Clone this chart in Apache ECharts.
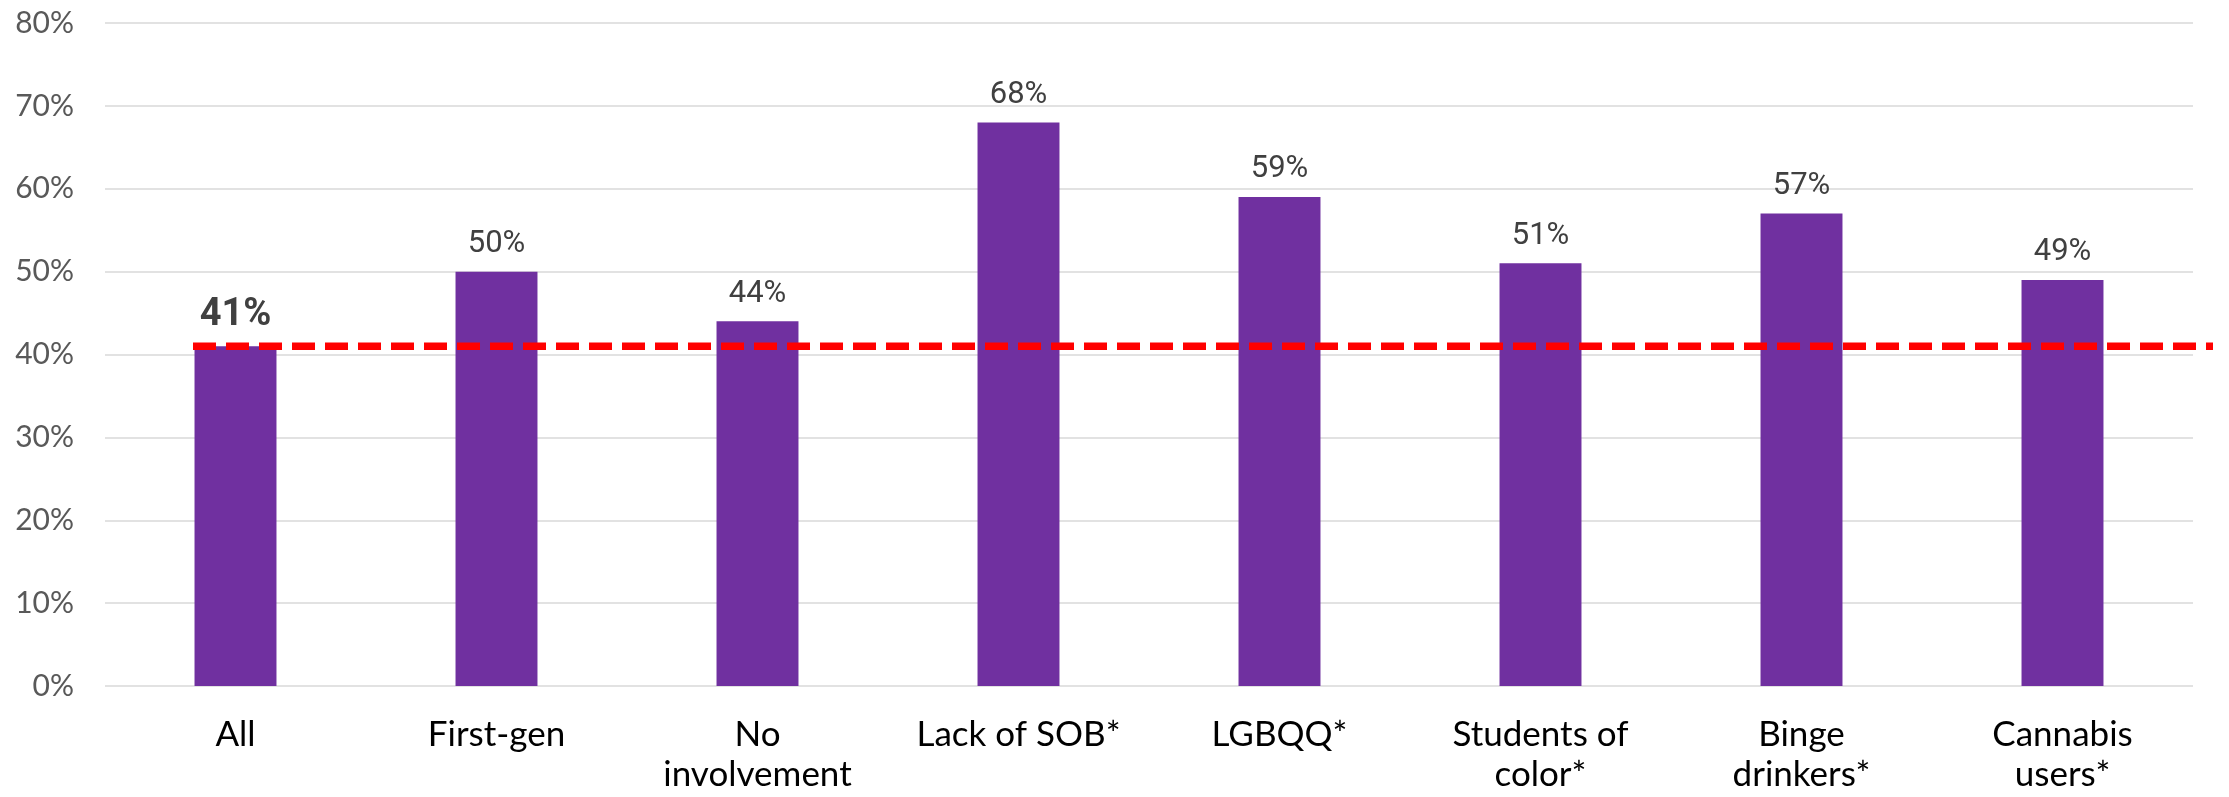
<!DOCTYPE html>
<html>
<head>
<meta charset="utf-8">
<title>Share by student group</title>
<script src="https://cdn.jsdelivr.net/npm/echarts@6/dist/echarts.min.js"></script>
<style>
  html, body { margin: 0; padding: 0; background: #ffffff; }
  #chart { width: 2229px; height: 797px; }
</style>
</head>
<body>
<div id="chart"></div>
<script>
// Student groups along the x axis
const categories = ['All', 'First-gen', 'No\ninvolvement', 'Lack of SOB*', 'LGBQQ*', 'Students of\ncolor*', 'Binge\ndrinkers*', 'Cannabis\nusers*'];
// Percent of each group
const values = [41, 50, 44, 68, 59, 51, 57, 49];
// Reference level drawn as a dashed line across the chart (the "All" value)
const referenceLevel = 41;
// Value axis ticks
const yTicks = [0, 10, 20, 30, 40, 50, 60, 70, 80];

const chart = echarts.init(document.getElementById('chart'), null, { renderer: 'canvas' });

const barData = values.map((v, i) => {
  if (i === 0) {
    return {
      value: v,
      label: { fontWeight: 'bold', fontSize: 38, color: '#404040' }
    };
  }
  return v;
});

const option = {
  animation: false,
  backgroundColor: '#ffffff',
  grid: [
    { left: 105, right: 36, top: 23, bottom: 111 },
    { left: 193, right: 16, top: 23, bottom: 111 }
  ],
  xAxis: [
    {
      type: 'category',
      gridIndex: 0,
      data: categories,
      axisLine: { show: false },
      axisTick: { show: false },
      axisLabel: {
        interval: 0,
        margin: 29,
        fontFamily: 'Lato',
        fontSize: 35,
        lineHeight: 40,
        color: '#000000'
      }
    },
    {
      type: 'value',
      gridIndex: 1,
      min: 0,
      max: 1,
      show: false
    }
  ],
  yAxis: [
    {
      type: 'value',
      gridIndex: 0,
      min: yTicks[0],
      max: yTicks[yTicks.length - 1],
      interval: yTicks[1] - yTicks[0],
      axisLine: { show: false },
      axisTick: { show: false },
      splitLine: { lineStyle: { color: '#d9d9d9', width: 1.5 } },
      axisLabel: {
        margin: 31,
        fontFamily: 'Lato',
        fontSize: 30,
        color: '#595959',
        formatter: '{value}%'
      }
    },
    {
      type: 'value',
      gridIndex: 1,
      min: yTicks[0],
      max: yTicks[yTicks.length - 1],
      show: false
    }
  ],
  series: [
    {
      type: 'bar',
      xAxisIndex: 0,
      yAxisIndex: 0,
      data: barData,
      barCategoryGap: '68.6%',
      itemStyle: { color: '#7030A0' },
      label: {
        show: true,
        position: 'top',
        distance: 12,
        fontFamily: 'Roboto',
        fontSize: 31,
        color: '#404040',
        formatter: '{c}%'
      },
      z: 2
    },
    {
      type: 'line',
      xAxisIndex: 1,
      yAxisIndex: 1,
      data: [[0, referenceLevel], [1, referenceLevel]],
      symbol: 'none',
      silent: true,
      lineStyle: { color: '#ff0000', width: 7.5, type: [23, 10], cap: 'butt' },
      z: 3
    }
  ]
};

chart.setOption(option);
</script>
</body>
</html>
